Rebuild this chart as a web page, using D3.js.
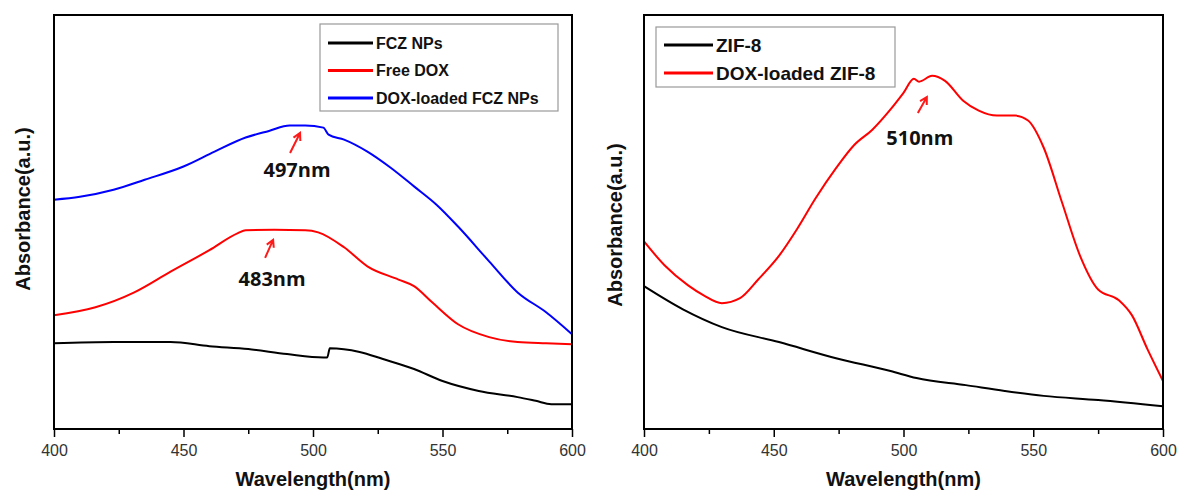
<!DOCTYPE html>
<html>
<head>
<meta charset="utf-8">
<script src="https://cdn.jsdelivr.net/npm/d3@7"></script>
<style>
  body { margin: 0; background: #fff; }
  text { font-family: "Liberation Sans", Arial, sans-serif; }
</style>
</head>
<body>
<svg id="chart" width="1181" height="493"></svg>
<script>
// x axis
const wavelengthTicks = [400, 450, 500, 550, 600];
const minorTicks = [425, 475, 525, 575];

// left panel: FCZ NPs / Free DOX / DOX-loaded FCZ NPs
const fczWl = [400, 423, 445, 460, 475, 490, 504, 505.5, 506.5, 518, 527, 539, 550, 564, 579, 586, 592, 600];
const fczAbs = [0.207, 0.210, 0.210, 0.200, 0.193, 0.181, 0.173, 0.173, 0.195, 0.186, 0.169, 0.145, 0.116, 0.092, 0.077, 0.068, 0.060, 0.060];

const freeDoxWl = [400, 416, 431, 445, 460, 471, 474, 485, 497, 502, 512, 521, 533, 539, 546, 556, 568, 579, 590, 600];
const freeDoxAbs = [0.275, 0.294, 0.330, 0.380, 0.432, 0.473, 0.480, 0.481, 0.480, 0.475, 0.439, 0.393, 0.361, 0.345, 0.306, 0.253, 0.222, 0.210, 0.207, 0.205];

const doxFczWl = [400, 410, 423, 435, 450, 462, 474, 483, 491, 497, 504, 506, 512, 521, 530, 539, 548, 556, 568, 579, 590, 600];
const doxFczAbs = [0.554, 0.561, 0.578, 0.602, 0.634, 0.670, 0.704, 0.720, 0.733, 0.733, 0.728, 0.711, 0.699, 0.670, 0.631, 0.586, 0.540, 0.489, 0.405, 0.330, 0.282, 0.229];

// right panel: ZIF-8 / DOX-loaded ZIF-8
const zif8Wl = [400, 415, 430, 452, 474, 495, 505, 524, 539, 554, 575, 600];
const zif8Abs = [0.345, 0.289, 0.246, 0.210, 0.171, 0.140, 0.123, 0.106, 0.092, 0.080, 0.070, 0.055];

const doxZifWl = [400, 408, 417, 423, 430, 437, 444, 452, 459, 466, 474, 481, 488, 495, 500, 504, 506, 511, 516, 523, 529, 536, 543, 548, 554, 561, 568, 575, 583, 588, 594, 600];
const doxZifAbs = [0.453, 0.395, 0.347, 0.323, 0.304, 0.316, 0.361, 0.418, 0.483, 0.556, 0.630, 0.686, 0.723, 0.772, 0.812, 0.846, 0.839, 0.853, 0.841, 0.793, 0.769, 0.757, 0.757, 0.745, 0.680, 0.549, 0.419, 0.337, 0.311, 0.275, 0.193, 0.116];

const svg = d3.select('#chart');

function zip(xs, ys) {
  return xs.map((v, i) => [v, ys[i]]);
}

function drawPanel(p) {
  const x = d3.scaleLinear().domain([400, 600]).range([p.left, p.right]);
  const y = d3.scaleLinear().domain([0, 1]).range([p.bottom, p.top]);
  const g = svg.append('g');

  // minor + major ticks under the frame
  const minor = g.append('g')
    .attr('transform', `translate(0,${p.bottom})`)
    .call(d3.axisBottom(x).tickValues(minorTicks).tickSize(5).tickFormat(''));
  minor.select('.domain').remove();
  minor.selectAll('line').attr('stroke', '#000').attr('stroke-width', 1.5);

  const major = g.append('g')
    .attr('transform', `translate(0,${p.bottom})`)
    .call(d3.axisBottom(x).tickValues(wavelengthTicks).tickSize(8).tickPadding(8));
  major.select('.domain').remove();
  major.selectAll('line').attr('stroke', '#000').attr('stroke-width', 1.5);
  major.selectAll('text')
    .attr('font-size', 16)
    .attr('fill', '#333')
    .style('font-family', '"Liberation Sans", Arial, sans-serif');

  const line = d3.line()
    .x(d => x(d[0]))
    .y(d => y(d[1]))
    .curve(d3.curveMonotoneX);

  p.series.forEach(s => {
    g.append('path')
      .datum(zip(s.wl, s.abs))
      .attr('fill', 'none')
      .attr('stroke', s.color)
      .attr('stroke-width', 2)
      .attr('stroke-linejoin', 'round')
      .attr('d', line);
  });

  // frame
  g.append('rect')
    .attr('x', p.left).attr('y', p.top)
    .attr('width', p.right - p.left).attr('height', p.bottom - p.top)
    .attr('fill', 'none')
    .attr('stroke', '#000')
    .attr('stroke-width', 2);

  // peak notes with red arrows
  p.notes.forEach(n => {
    const tx = x(n.wl), ty = y(n.abs);
    const sx = tx + n.tail[0], sy = ty + n.tail[1];
    const ang = Math.atan2(ty - sy, tx - sx);
    const h = 8, spread = 0.5;
    g.append('path')
      .attr('d', `M${sx},${sy}L${tx},${ty}` +
        `M${tx - h * Math.cos(ang - spread)},${ty - h * Math.sin(ang - spread)}L${tx},${ty}` +
        `L${tx - h * Math.cos(ang + spread)},${ty - h * Math.sin(ang + spread)}`)
      .attr('fill', 'none')
      .attr('stroke', '#ff1a1a')
      .attr('stroke-width', 2);
    g.append('text')
      .attr('x', tx + n.text[0]).attr('y', ty + n.text[1])
      .attr('text-anchor', 'middle')
      .style('font-family', '"Open Sans", sans-serif')
      .attr('font-weight', 'bold')
      .attr('font-size', 20)
      .attr('fill', '#111')
      .text(n.label);
  });

  // legend
  const lg = p.legend;
  g.append('rect')
    .attr('x', lg.x).attr('y', lg.y)
    .attr('width', lg.w).attr('height', lg.h)
    .attr('fill', '#fff')
    .attr('stroke', '#999')
    .attr('stroke-width', 1.2);
  p.series.forEach((s, i) => {
    const ry = lg.y + lg.first + i * lg.step;
    g.append('line')
      .attr('x1', lg.x + 8).attr('x2', lg.x + 8 + lg.len)
      .attr('y1', ry).attr('y2', ry)
      .attr('stroke', s.color).attr('stroke-width', 3);
    g.append('text')
      .attr('x', lg.x + 11 + lg.len).attr('y', ry)
      .attr('dy', '0.36em')
      .attr('font-size', lg.font)
      .attr('font-weight', 'bold')
      .attr('fill', '#111')
      .text(s.name);
  });

  // axis titles
  g.append('text')
    .attr('x', (p.left + p.right) / 2).attr('y', 486)
    .attr('text-anchor', 'middle')
    .attr('font-size', 20)
    .attr('font-weight', 'bold')
    .attr('fill', '#111')
    .text('Wavelength(nm)');

  g.append('text')
    .attr('transform', `translate(${p.yLabelX},${p.yLabelY}) rotate(-90)`)
    .attr('text-anchor', 'middle')
    .attr('dy', '0.35em')
    .attr('font-size', 20)
    .attr('font-weight', 'bold')
    .attr('fill', '#111')
    .text('Absorbance(a.u.)');
}

drawPanel({
  left: 54, right: 572, top: 15, bottom: 429, yLabelX: 23, yLabelY: 209,
  series: [
    { name: 'FCZ NPs', color: '#000', wl: fczWl, abs: fczAbs },
    { name: 'Free DOX', color: '#ff0000', wl: freeDoxWl, abs: freeDoxAbs },
    { name: 'DOX-loaded FCZ NPs', color: '#0000ff', wl: doxFczWl, abs: doxFczAbs }
  ],
  notes: [
    { label: '497nm', wl: 495, abs: 0.715, tail: [-10, 20], text: [-3, 44] },
    { label: '483nm', wl: 484.6, abs: 0.457, tail: [-8, 18], text: [-1, 46] }
  ],
  legend: { x: 320, y: 24, w: 238, h: 87, first: 19, step: 27.5, len: 45, font: 16 }
});

drawPanel({
  left: 644, right: 1163, top: 15, bottom: 429, yLabelX: 615, yLabelY: 225,
  series: [
    { name: 'ZIF-8', color: '#000', wl: zif8Wl, abs: zif8Abs },
    { name: 'DOX-loaded ZIF-8', color: '#ff0000', wl: doxZifWl, abs: doxZifAbs }
  ],
  notes: [
    { label: '510nm', wl: 509, abs: 0.802, tail: [-9, 16], text: [-7, 48] }
  ],
  legend: { x: 656, y: 27, w: 239, h: 60, first: 18, step: 28, len: 49, font: 19 }
});
</script>
</body>
</html>
